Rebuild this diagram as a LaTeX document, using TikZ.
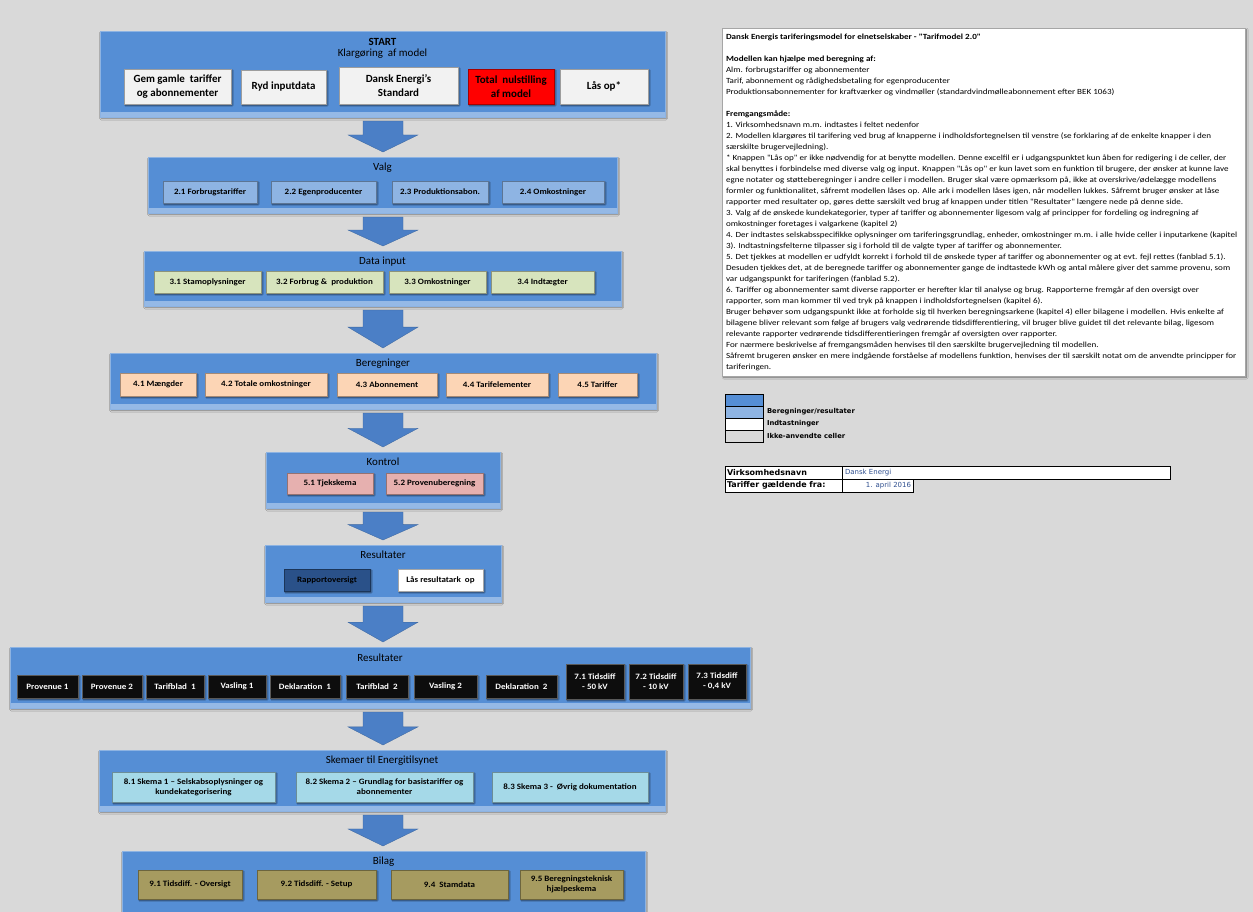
\documentclass[tikz,border=0pt]{standalone}
\usepackage{fontspec}
\setmainfont{Carlito}
\newfontfamily\pixfont{DejaVu Sans}
\newfontfamily\widefont[FakeStretch=1.1]{Carlito}
\newfontfamily\boxtextfont[FakeStretch=1.15]{Carlito}
\usetikzlibrary{calc,shadows.blur}
\definecolor{bg}{HTML}{D9D9D9}
\definecolor{panelc}{HTML}{558ED5}
\definecolor{panellight}{HTML}{95B9E6}
\definecolor{paneledge}{HTML}{8DB3E2}
\definecolor{arrowc}{HTML}{4B7FC6}
\definecolor{startbtn}{HTML}{F2F2F2}
\definecolor{redbtn}{HTML}{FF0000}
\definecolor{valgbtn}{HTML}{8EB4E3}
\definecolor{inputbtn}{HTML}{D7E4BD}
\definecolor{beregbtn}{HTML}{FCD5B5}
\definecolor{kontrolbtn}{HTML}{E6B0AF}
\definecolor{rapbtn}{HTML}{2A5189}
\definecolor{blackbtn}{HTML}{0D0D0D}
\definecolor{skemabtn}{HTML}{A5D9E8}
\definecolor{bilagbtn}{HTML}{A69B60}
\definecolor{boxedge}{HTML}{A6A6A6}
\definecolor{bluetext}{HTML}{2F4F8F}
\tikzset{
  panelbox/.style={fill=panelc, draw=paneledge, line width=0.8bp,
     blur shadow={shadow xshift=1.2bp, shadow yshift=-1.5bp, shadow blur radius=1.5bp, shadow opacity=45},
     path picture={\fill[panellight] ([yshift=5bp]path picture bounding box.south west) rectangle (path picture bounding box.south east);}},
  ptitle/.style={font=\fontsize{11}{13}\selectfont, text=black},
  btn/.style={fill=#1, draw=#1!65!black, line width=0.5bp, align=center,
     font=\widefont\bfseries\fontsize{8.2}{10}\selectfont,
     blur shadow={shadow xshift=1.2bp, shadow yshift=-1.2bp, shadow blur radius=1.2bp, shadow opacity=55}},
  bigbtn/.style={btn=#1, font=\bfseries\fontsize{11}{14}\selectfont},
  darkbtn/.style={btn=blackbtn, draw=gray!70!black, text=white},
  blockarrow/.style={fill=arrowc, draw=arrowc!80!black, line width=0.3bp},
  legbox/.style={draw=black, line width=0.8bp},
  legtext/.style={font=\pixfont\bfseries\fontsize{6.8}{8}\selectfont, anchor=west},
  cell/.style={draw=black, fill=white, line width=0.9bp},
  tabtext/.style={font=\pixfont\bfseries\fontsize{8}{9}\selectfont, anchor=west},
}
\newcommand\mkbox[7]{\node[#2, anchor=north west, minimum width={(#5-#3)*1bp}, minimum height={(#6-#4)*1bp}] (#1) at (#3,#4) {#7};}
\newcommand\blockarr[2]{%
  \coordinate (arrT) at ([yshift=-4bp]ax |- #1.south);
  \coordinate (arrB) at ([yshift=5bp]ax |- #2.north);
  \coordinate (arrM) at ($(arrT)!0.45!(arrB)$);
  \filldraw[blockarrow] ($(arrT)+(-20,0)$) -- ($(arrT)+(20,0)$) -- ($(arrM)+(20,0)$) -- ($(arrM)+(35,0)$) -- (arrB) -- ($(arrM)+(-35,0)$) -- ($(arrM)+(-20,0)$) -- cycle;}
\begin{document}
\begin{tikzpicture}[x=1bp,y=-1bp, every node/.style={inner sep=0pt, outer sep=0pt}]
\useasboundingbox (0,0) rectangle (1253,912);
\fill[bg] (0,0) rectangle (1253,912);
\coordinate (ax) at (383,0);

% Panel 1
\mkbox{p1}{panelbox}{100}{31}{665}{117}{}
\node[ptitle, font=\bfseries\fontsize{11}{13}\selectfont] (t1) at ($(p1.north)+(0,10.5)$) {START};
\node[ptitle] (t1b) at ($(p1.north)+(0,23)$) {Klargøring\ \ af model};
\mkbox{b11}{bigbtn=startbtn}{124}{69}{231}{104}{Gem gamle\ \ tariffer\\og abonnementer}
\mkbox{b12}{bigbtn=startbtn}{241}{70}{326}{104}{Ryd inputdata}
\mkbox{b13}{bigbtn=startbtn}{339}{67}{458}{104}{Dansk Energi's\\Standard}
\mkbox{b14}{bigbtn=redbtn}{468}{69}{554}{104}{Total\ \ nulstilling\\af model}
\mkbox{b15}{bigbtn=startbtn}{560}{69}{648}{104}{Lås op*}

% Panel 2
\mkbox{p2}{panelbox}{148}{157}{617}{213}{}
\node[ptitle] (t2) at ($(p2.north)+(0,10.5)$) {Valg};
\mkbox{b21}{btn=valgbtn}{163}{181}{257}{203}{2.1 Forbrugstariffer}
\mkbox{b22}{btn=valgbtn}{271}{181}{376}{203}{2.2 Egenproducenter}
\mkbox{b23}{btn=valgbtn}{392}{181}{488}{203}{2.3 Produktionsabon.}
\mkbox{b24}{btn=valgbtn}{502}{181}{604}{203}{2.4 Omkostninger}

% Panel 3
\mkbox{p3}{panelbox}{144}{251}{621}{306}{}
\node[ptitle] (t3) at ($(p3.north)+(0,10.5)$) {Data input};
\mkbox{b31}{btn=inputbtn}{154}{271}{261}{293}{3.1 Stamoplysninger}
\mkbox{b32}{btn=inputbtn}{266}{271}{383}{293}{3.2 Forbrug \& \ produktion}
\mkbox{b33}{btn=inputbtn}{389}{271}{486}{293}{3.3 Omkostninger}
\mkbox{b34}{btn=inputbtn}{491}{271}{594}{293}{3.4 Indtægter}

% Panel 4
\mkbox{p4}{panelbox}{110}{353}{656}{409}{}
\node[ptitle] (t4) at ($(p4.north)+(0,10.5)$) {Beregninger};
\mkbox{b41}{btn=beregbtn}{120}{373}{196}{396}{4.1 Mængder}
\mkbox{b42}{btn=beregbtn}{205}{373}{327}{396}{4.2 Totale omkostninger}
\mkbox{b43}{btn=beregbtn}{337}{373}{437}{396}{4.3 Abonnement}
\mkbox{b44}{btn=beregbtn}{446}{373}{548}{396}{4.4 Tarifelementer}
\mkbox{b45}{btn=beregbtn}{558}{373}{637}{396}{4.5 Tariffer}

% Panel 5
\mkbox{p5}{panelbox}{266}{452}{500}{508}{}
\node[ptitle] (t5) at ($(p5.north)+(0,10)$) {Kontrol};
\mkbox{b51}{btn=kontrolbtn}{287}{473}{373}{494}{5.1 Tjekskema}
\mkbox{b52}{btn=kontrolbtn}{386}{473}{483}{494}{5.2 Provenuberegning}

% Panel 6
\mkbox{p6}{panelbox}{265}{545}{501}{602}{}
\node[ptitle] (t6) at ($(p6.north)+(0,10)$) {Resultater};
\mkbox{b61}{btn=rapbtn}{284}{569}{370}{591}{Rapportoversigt}
\mkbox{b62}{btn=white}{398}{569}{483}{591}{Lås resultatark\ \ op}

% Panel 7
\mkbox{p7}{panelbox}{10}{647}{750}{708}{}
\node[ptitle] (t7) at ($(p7.north)+(0,10.5)$) {Resultater};
\mkbox{b71}{darkbtn}{17}{675}{78}{698}{Provenue 1}
\mkbox{b72}{darkbtn}{82}{675}{142}{698}{Provenue 2}
\mkbox{b73}{darkbtn}{146}{675}{204}{698}{Tarifblad\ \ 1}
\mkbox{b74}{darkbtn}{208}{675}{266}{698}{Vasling 1}
\mkbox{b75}{darkbtn}{270}{675}{340}{698}{Deklaration\ \ 1}
\mkbox{b76}{darkbtn}{346}{675}{408}{698}{Tarifblad\ \ 2}
\mkbox{b77}{darkbtn}{414}{675}{477}{698}{Vasling 2}
\mkbox{b78}{darkbtn}{486}{675}{557}{698}{Deklaration\ \ 2}
\mkbox{b79}{darkbtn}{566}{664}{624}{699}{7.1 Tidsdiff\\- 50 kV}
\mkbox{b710}{darkbtn}{629}{664}{683}{699}{7.2 Tidsdiff\\- 10 kV}
\mkbox{b711}{darkbtn}{688}{664}{746}{699}{7.3 Tidsdiff\\- 0,4 kV}

% Panel 8
\mkbox{p8}{panelbox}{99}{750}{665}{811}{}
\node[ptitle] (t8) at ($(p8.north)+(0,10.5)$) {Skemaer til Energitilsynet};
\mkbox{b81}{btn=skemabtn}{112}{772}{275}{802}{8.1 Skema 1 – Selskabsoplysninger og\\kundekategorisering}
\mkbox{b82}{btn=skemabtn}{296}{772}{473}{802}{8.2 Skema 2 – Grundlag for basistariffer og\\abonnementer}
\mkbox{b83}{btn=skemabtn}{492}{772}{648}{802}{8.3 Skema 3 - \ Øvrig dokumentation}

% Panel 9
\mkbox{p9}{panelbox}{122}{851}{645}{918}{}
\node[ptitle] (t9) at ($(p9.north)+(0,10.5)$) {Bilag};
\mkbox{b91}{btn=bilagbtn}{138}{870}{242}{899}{9.1 Tidsdiff. - Oversigt}
\mkbox{b92}{btn=bilagbtn}{257}{870}{376}{899}{9.2 Tidsdiff. - Setup}
\mkbox{b93}{btn=bilagbtn}{391}{870}{508}{899}{9.4 \ Stamdata}
\mkbox{b94}{btn=bilagbtn}{520}{870}{623}{899}{9.5 Beregningsteknisk\\hjælpeskema}

% Arrows
\blockarr{p1}{p2}
\blockarr{p2}{p3}
\blockarr{p3}{p4}
\blockarr{p4}{p5}
\blockarr{p5}{p6}
\blockarr{p6}{p7}
\blockarr{p7}{p8}
\blockarr{p8}{p9}

% Text box
\mkbox{tb}{fill=white, draw=boxedge, line width=1bp, blur shadow={shadow xshift=1.5bp, shadow yshift=-1.5bp, shadow blur radius=1.5bp, shadow opacity=50}}{722}{28}{1245}{376}{}
\node[anchor=north west, align=left, font=\boxtextfont\fontsize{7.9}{11.05}\selectfont] (tbt) at (726,34) {%
\textbf{Dansk Energis tariferingsmodel for elnetselskaber - "Tarifmodel 2.0"}\\
\mbox{}\\
\textbf{Modellen kan hjælpe med beregning af:}\\
Alm. forbrugstariffer og abonnementer\\
Tarif, abonnement og rådighedsbetaling for egenproducenter\\
Produktionsabonnementer for kraftværker og vindmøller (standardvindmølleabonnement efter BEK 1063)\\
\mbox{}\\
\textbf{Fremgangsmåde:}\\
1. Virksomhedsnavn m.m. indtastes i feltet nedenfor\\
2. Modellen klargøres til tarifering ved brug af knapperne i indholdsfortegnelsen til venstre (se forklaring af de enkelte knapper i den\\
særskilte brugervejledning).\\
* Knappen "Lås op" er ikke nødvendig for at benytte modellen. Denne excelfil er i udgangspunktet kun åben for redigering i de celler, der\\
skal benyttes i forbindelse med diverse valg og input. Knappen "Lås op" er kun lavet som en funktion til brugere, der ønsker at kunne lave\\
egne notater og støtteberegninger i andre celler i modellen. Bruger skal være opmærksom på, ikke at overskrive/ødelægge modellens\\
formler og funktionalitet, såfremt modellen låses op. Alle ark i modellen låses igen, når modellen lukkes. Såfremt bruger ønsker at låse\\
rapporter med resultater op, gøres dette særskilt ved brug af knappen under titlen "Resultater" længere nede på denne side.\\
3. Valg af de ønskede kundekategorier, typer af tariffer og abonnementer ligesom valg af principper for fordeling og indregning af\\
omkostninger foretages i valgarkene (kapitel 2)\\
4. Der indtastes selskabsspecifikke oplysninger om tariferingsgrundlag, enheder, omkostninger m.m. i alle hvide celler i inputarkene (kapitel\\
3). Indtastningsfelterne tilpasser sig i forhold til de valgte typer af tariffer og abonnementer.\\
5. Det tjekkes at modellen er udfyldt korrekt i forhold til de ønskede typer af tariffer og abonnementer og at evt. fejl rettes (fanblad 5.1).\\
Desuden tjekkes det, at de beregnede tariffer og abonnementer gange de indtastede kWh og antal målere giver det samme provenu, som\\
var udgangspunkt for tariferingen (fanblad 5.2).\\
6. Tariffer og abonnementer samt diverse rapporter er herefter klar til analyse og brug. Rapporterne fremgår af den oversigt over\\
rapporter, som man kommer til ved tryk på knappen i indholdsfortegnelsen (kapitel 6).\\
Bruger behøver som udgangspunkt ikke at forholde sig til hverken beregningsarkene (kapitel 4) eller bilagene i modellen. Hvis enkelte af\\
bilagene bliver relevant som følge af brugers valg vedrørende tidsdifferentiering, vil bruger blive guidet til det relevante bilag, ligesom\\
relevante rapporter vedrørende tidsdifferentieringen fremgår af oversigten over rapporter.\\
For nærmere beskrivelse af fremgangsmåden henvises til den særskilte brugervejledning til modellen.\\
Såfremt brugeren ønsker en mere indgående forståelse af modellens funktion, henvises der til særskilt notat om de anvendte principper for\\
tariferingen.};

% Legend
\mkbox{l1}{legbox, fill=panelc}{725}{394}{763}{406}{}
\mkbox{l2}{legbox, fill=valgbtn}{725}{406}{763}{418}{}
\mkbox{l3}{legbox, fill=white}{725}{418}{763}{430}{}
\mkbox{l4}{legbox, fill=bg}{725}{430}{763}{442}{}
\node[legtext] (lt2) at ($(l2.east)+(4,0)$) {Beregninger/resultater};
\node[legtext] (lt3) at ($(l3.east)+(4,0)$) {Indtastninger};
\node[legtext] (lt4) at ($(l4.east)+(4,0)$) {Ikke-anvendte celler};

% Table
\mkbox{c11}{cell}{725}{466}{842}{479}{}
\mkbox{c12}{cell}{842}{466}{1170}{479}{}
\mkbox{c21}{cell}{725}{479}{842}{492}{}
\mkbox{c22}{cell}{842}{479}{913}{492}{}
\node[tabtext] (v1) at ($(c11.west)+(2,0)$) {Virksomhedsnavn};
\node[tabtext] (v2) at ($(c21.west)+(2,0)$) {Tariffer gældende fra:};
\node[anchor=west, text=bluetext, font=\pixfont\fontsize{7}{8}\selectfont] (v3) at ($(c12.west)+(3,0)$) {Dansk Energi};
\node[anchor=east, text=bluetext, font=\pixfont\fontsize{7}{8}\selectfont] (v4) at ($(c22.east)+(-2,0)$) {1. april 2016};
\end{tikzpicture}
\end{document}
